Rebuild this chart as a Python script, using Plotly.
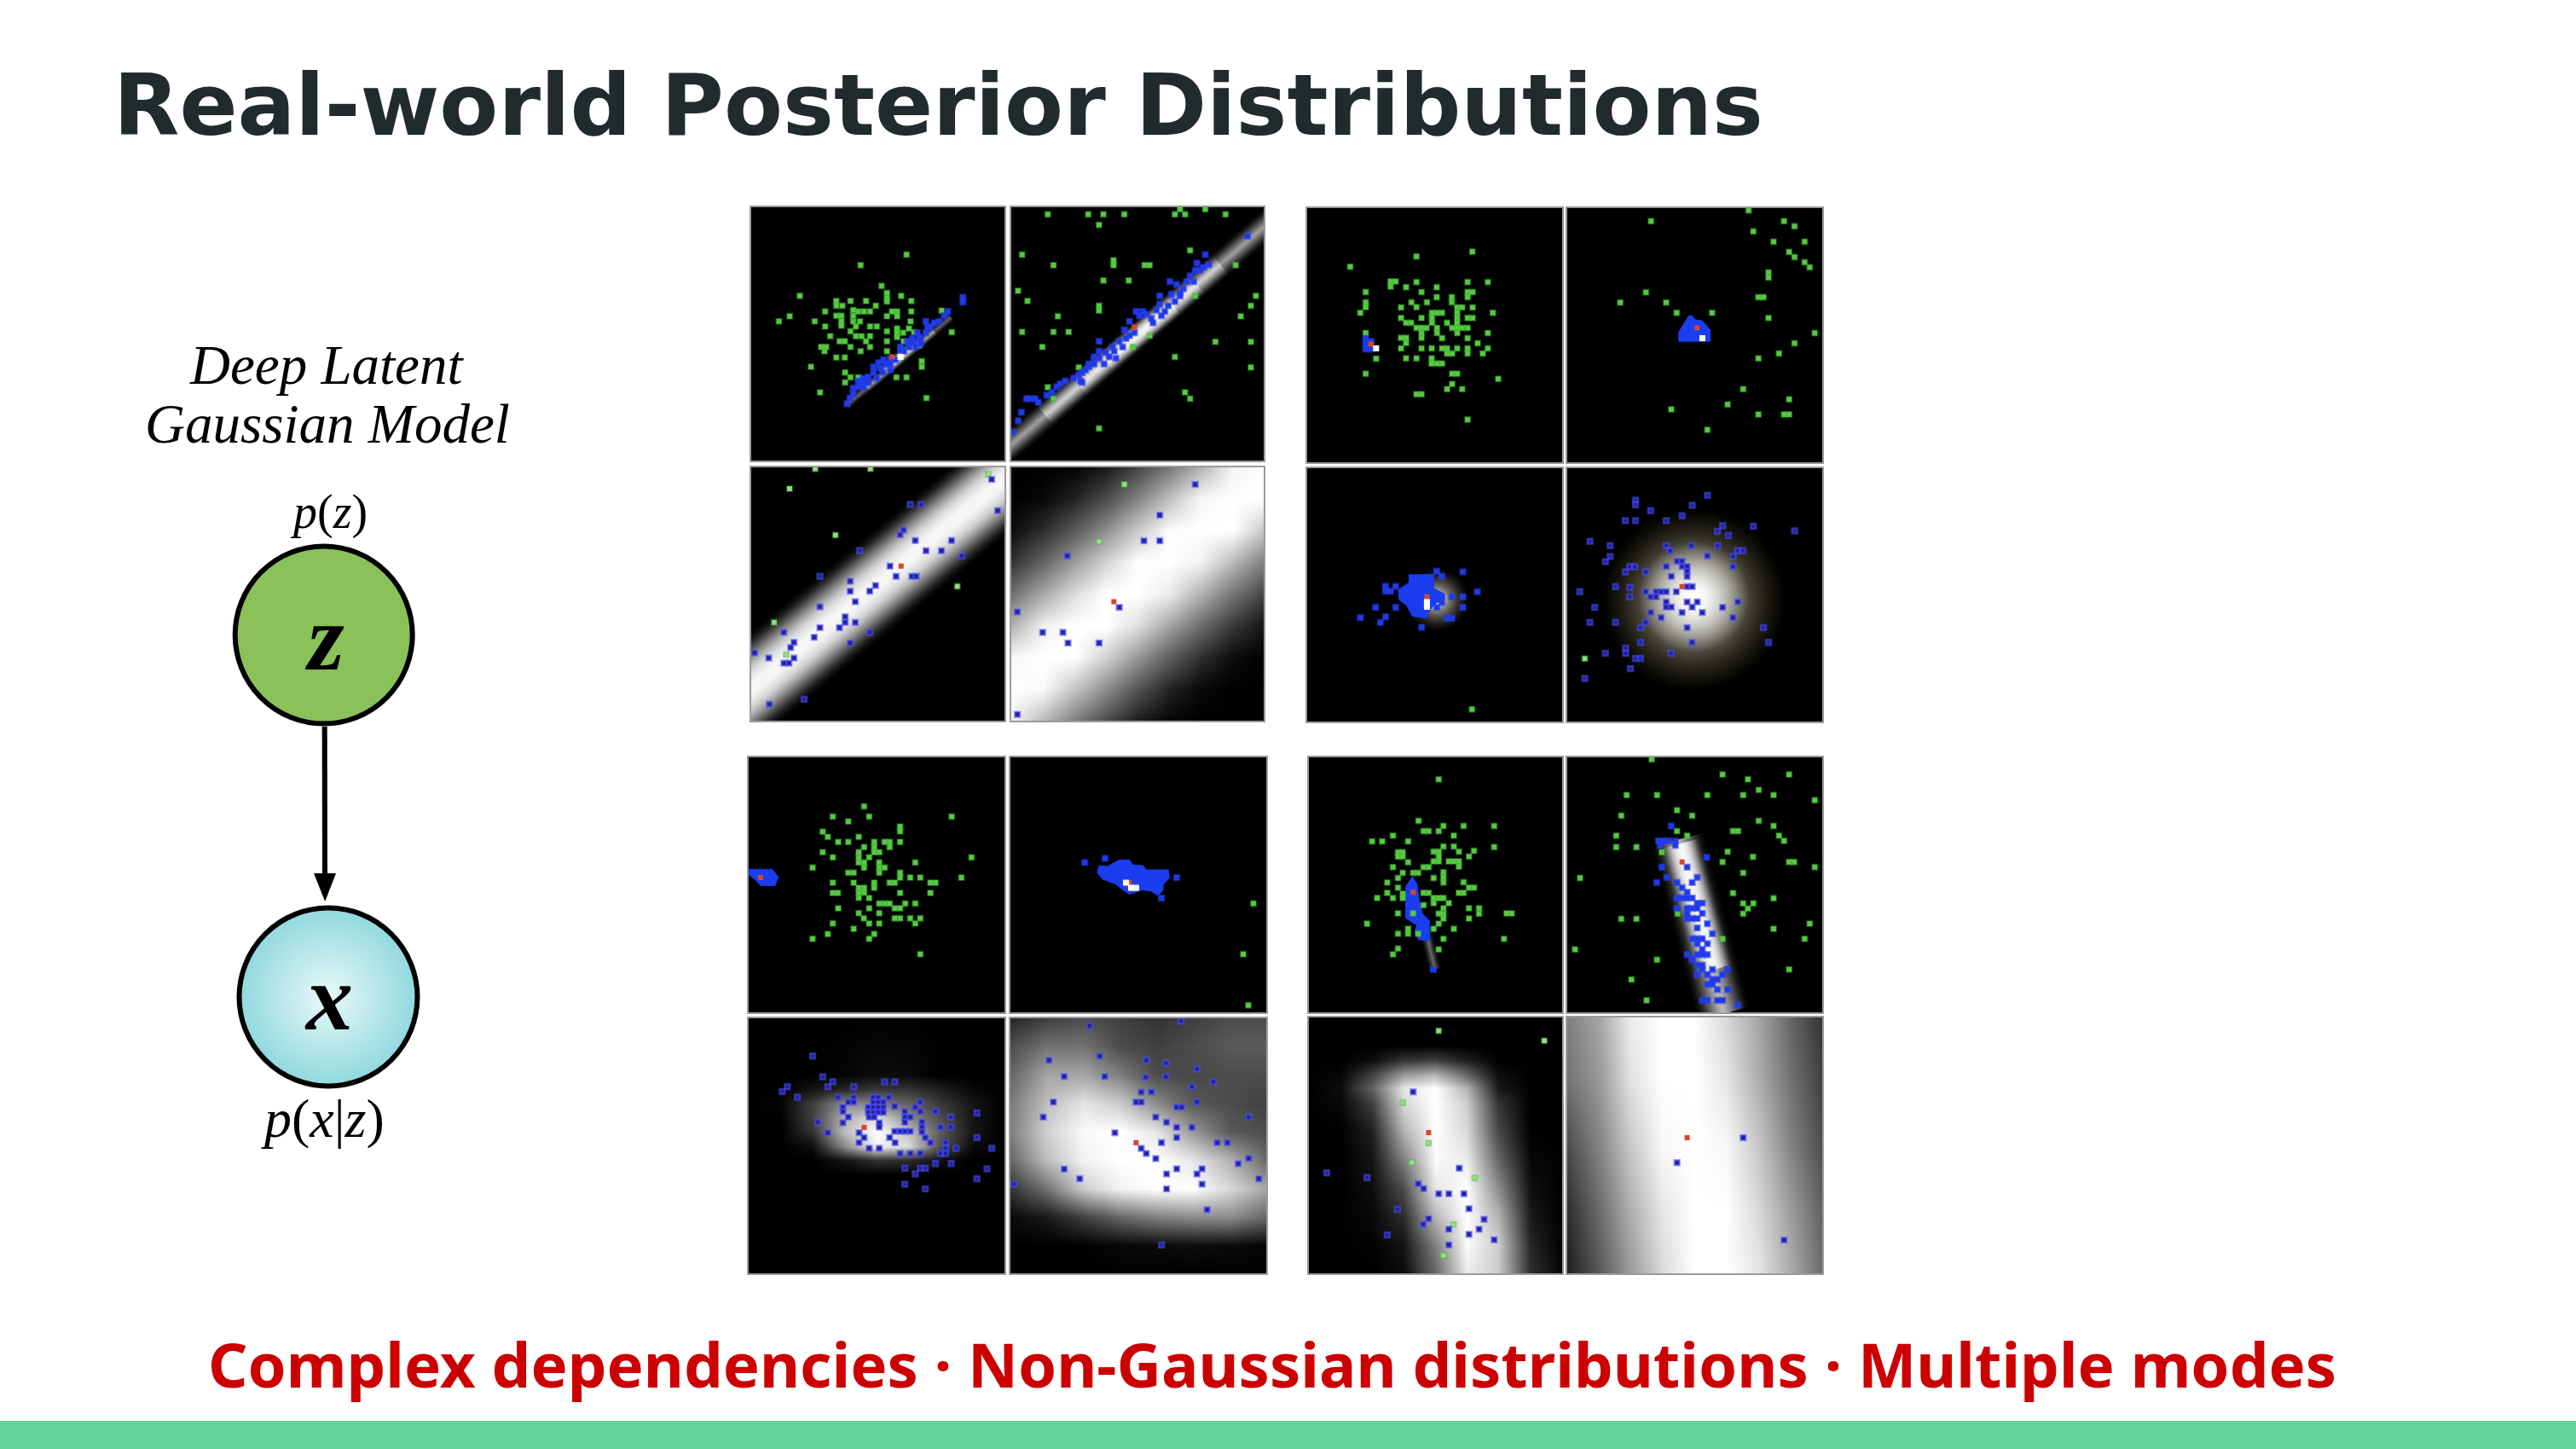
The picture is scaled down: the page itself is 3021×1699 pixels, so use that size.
import plotly.graph_objects as go
import numpy as np

W, H = 3021, 1699
TITLE = "Real-world Posterior Distributions"
FOOTER = "Complex dependencies · Non-Gaussian distributions · Multiple modes"

P01_G = [(488,205),(352,242),(172,350),(414,315),(430,340),(430,358),(430,370),(472,350),(502,368),(280,368),(280,385),(298,385),(322,368),(368,368),(397,385),(330,400),(345,405),(362,405),(380,405),(330,420),(247,405),(280,420),(295,420),(295,440),(295,455),(330,440),(445,405),(460,405),(460,422),(430,422),(502,405),(500,440),(142,422),(110,440),(216,440),(247,458),(350,440),(338,458),(380,458),(400,458),(322,475),(430,475),(460,465),(460,482),(460,495),(478,480),(495,465),(510,478),(262,492),(338,492),(355,492),(380,492),(290,510),(305,510),(322,530),(368,510),(380,530),(430,510),(480,510),(525,525),(430,545),(235,530),(250,530),(245,545),(352,545),(280,567),(305,567),(205,600),(622,478),(592,402),(533,580),(533,600),(306,620),(322,637),(345,637),(306,655),(458,637),(488,637),(232,690),(547,710)]
P01_B = [(312,730),(330,695),(345,670),(360,655),(375,635),(390,620),(410,605),(425,590),(440,590),(455,575),(480,545),(495,530),(510,515),(525,495),(545,480),(530,505),(545,440),(560,460),(585,440),(600,420),(610,405),(655,355),(655,372),(418,620),(400,640),(470,540),(505,500),(345,650),(360,640),(375,655),(390,600),(405,585),(420,575),(440,570),(470,530),(490,510),(520,480),(530,520),(515,530),(550,460),(570,445),(330,675),(320,710),(440,610),(360,670)]
P01_R = [(445,565)]
P01_W = [(470,565)]
P02_G = [(908,63),(1028,63),(1073,63),(1135,63),(1060,100),(1285,63),(1300,45),(1315,63),(1375,45),(1435,63),(832,205),(925,242),(1103,225),(1103,242),(1195,242),(1210,242),(1330,190),(1465,242),(1073,296),(1148,296),(820,332),(848,368),(1525,350),(1510,385),(1060,385),(1060,402),(938,422),(1480,422),(832,477),(925,477),(970,477),(892,530),(1405,512),(1510,512),(1285,565),(1000,602),(1510,602),(908,672),(925,712),(1315,690),(1330,712),(1060,817),(1345,350),(1210,490),(1160,530)]
P02_B = [(805,830),(820,790),(855,712),(880,725),(920,690),(945,660),(1005,650),(1010,620),(1030,590),(1045,565),(1060,510),(1075,590),(1105,545),(1130,530),(1140,500),(1165,480),(1170,405),(1190,405),(1215,430),(1240,350),(1255,405),(1285,370),(1290,310),(1310,325),(1330,280),(1350,235),(1385,240),(1375,205),(1360,260),(1500,140),(1240,380),(1220,445),(1100,530),(1080,550),(1060,570),(1030,600),(1270,300),(1340,300),(830,760),(845,712),(870,712),(905,700),(935,670),(960,650),(985,640),(1000,630),(1020,610),(1045,590),(1060,545),(1090,565),(1120,510),(1150,490),(1150,440),(1180,420),(1200,415),(1230,400),(1245,420),(1265,385),(1275,345),(1300,340),(1320,300),(1345,260),(1370,250),(1300,350),(1110,570),(1135,470),(1010,655)]
P02_R = [(1165,460)]
P03_G = [(218,30),(382,30),(142,100),(278,263),(96,570),(640,443),(132,683),(732,50)]
P03_B = [(742,67),(760,177),(500,155),(532,155),(480,245),(470,262),(515,282),(623,282),(350,318),(547,318),(593,318),(653,337),(440,372),(458,408),(505,408),(518,408),(232,408),(322,425),(397,440),(380,460),(322,460),(337,497),(232,515),(307,550),(307,570),(337,570),(232,588),(290,588),(380,605),(215,622),(125,605),(322,642),(155,640),(145,658),(38,677),(80,695),(155,695),(125,713),(140,713),(82,857),(185,840)]
P03_R = [(473,372)]
P04_G = [(1135,85),(1060,285)]
P04_B = [(818,893),(818,533),(893,605),(953,605),(968,642),(1060,642),(966,336),(1193,283),(1240,283),(1240,193),(1345,85),(1120,517)]
P04_R = [(1104,497)]
P05_G = [(523,195),(357,212),(160,248),(280,300),(295,300),(280,318),(357,302),(326,320),(417,320),(509,302),(569,302),(206,337),(372,337),(509,337),(524,337),(509,355),(417,355),(462,355),(462,373),(206,373),(206,390),(342,373),(357,390),(388,373),(311,391),(190,410),(478,391),(493,391),(524,391),(584,410),(403,410),(418,410),(433,410),(403,428),(403,445),(311,428),(372,428),(478,410),(478,428),(478,445),(509,428),(524,428),(326,445),(341,445),(448,445),(357,463),(372,463),(387,463),(372,481),(372,498),(418,463),(418,481),(463,463),(478,463),(493,463),(509,463),(478,481),(206,481),(569,481),(311,498),(326,498),(326,516),(311,535),(433,499),(509,499),(539,517),(372,535),(402,535),(433,535),(448,535),(448,553),(463,553),(478,535),(509,535),(509,553),(554,553),(569,535),(237,571),(326,570),(357,570),(402,570),(402,588),(418,588),(433,588),(206,624),(463,624),(478,624),(463,660),(448,678),(493,678),(357,696),(372,696),(600,642),(509,785)]
P05_B = [(206,500),(206,520),(206,537),(222,537),(222,510)]
P05_R = [(222,520)]
P05_W = [(237,535)]
P06_G = [(1342,50),(1053,88),(1447,88),(1478,106),(1356,124),(1416,160),(1508,160),(1462,196),(1478,214),(1508,232),(1523,250),(1401,268),(1401,286),(1038,338),(1371,355),(1386,355),(1098,374),(962,374),(1129,410),(1234,410),(1401,428),(1538,481),(1478,517),(1432,553),(1371,570),(1326,678),(1462,714),(1280,732),(1113,749),(1371,767),(1447,767),(1462,767),(1220,821)]
P06_POLY = [(1175,420),(1185,435),(1205,438),(1228,470),(1228,510),(1135,510),(1135,478),(1155,440),(1165,420)]
P06_R = [(1190,463)]
P06_W = [(1205,499)]
P07_G = [(522,875)]
P07_B = [(417,390),(495,392),(432,408),(265,443),(265,460),(280,460),(295,443),(538,462),(495,480),(462,480),(495,517),(235,517),(295,517),(265,550),(250,570),(190,553),(372,587),(447,555),(462,555),(418,517),(432,500)]
P07_POLY = [(335,402),(408,402),(408,450),(440,470),(440,490),(418,500),(400,520),(385,555),(345,548),(328,510),(305,490),(303,455),(335,430)]
P07_R = [(388,480)]
P07_W = [(388,498),(388,515)]
P08_G = [(857,697)]
P08_B = [(1220,123),(1007,140),(1007,157),(1175,158),(1052,177),(1145,195),(977,212),(1007,212),(1098,212),(1265,230),(1250,250),(1356,232),(1478,248),(1282,265),(872,285),(932,300),(1098,300),(1110,318),(1172,300),(1250,300),(1310,318),(1325,318),(932,338),(918,356),(1220,336),(1296,338),(1130,355),(1145,355),(1145,373),(1160,373),(1160,390),(1160,408),(1098,373),(1296,373),(990,374),(1005,374),(977,392),(1037,392),(1113,408),(948,444),(990,447),(1160,444),(1175,444),(842,462),(990,480),(1037,462),(1068,462),(1083,462),(1098,462),(1052,480),(1068,480),(1128,462),(1098,498),(1098,516),(1113,516),(1160,498),(1190,498),(1175,516),(1310,498),(886,517),(1265,517),(1052,535),(1145,535),(1205,535),(1083,553),(1296,553),(872,570),(948,570),(1037,570),(1022,588),(1160,588),(1386,588),(1022,640),(1175,640),(1401,640),(978,660),(978,678),(918,678),(1112,678),(1007,696),(1022,696),(992,732),(857,767)]
P08_R = [(1145,444)]
P09_G = [(363,197),(270,233),(378,233),(623,233),(316,250),(470,268),(470,285),(240,286),(255,304),(347,304),(286,322),(316,322),(393,322),(393,340),(393,358),(408,358),(424,322),(439,322),(439,340),(470,322),(363,340),(347,358),(347,376),(347,394),(363,394),(363,412),(378,376),(240,358),(270,376),(682,376),(515,394),(210,412),(408,394),(408,412),(408,430),(424,412),(316,430),(332,430),(470,430),(470,447),(500,447),(530,447),(652,447),(270,465),(332,465),(393,465),(393,483),(439,465),(454,465),(560,465),(575,465),(347,483),(363,483),(347,500),(363,500),(347,518),(270,501),(285,501),(470,501),(560,501),(378,519),(408,538),(424,538),(439,538),(485,538),(515,538),(454,555),(470,555),(286,555),(378,555),(347,572),(408,572),(362,590),(454,590),(470,590),(500,590),(530,590),(270,608),(378,608),(408,608),(515,608),(332,627),(393,645),(255,645),(378,662),(210,662),(530,716)]
P09_POLY = [(22,418),(90,418),(108,445),(98,475),(55,475),(40,455),(22,438)]
P09_R = [(55,447)]
P10_G = [(1517,538),(1487,716),(1502,895)]
P10_B = [(1018,394),(1078,380),(1245,519),(1290,447)]
P10_POLY = [(1120,385),(1150,385),(1160,403),(1190,405),(1200,420),(1265,420),(1268,450),(1250,470),(1250,490),(1235,510),(1215,495),(1190,490),(1150,505),(1130,490),(1110,470),(1070,452),(1055,430),(1060,405),(1085,408)]
P10_R = [(1150,465)]
P10_W = [(1140,465),(1155,483),(1170,483)]
P11_B = [(210,145),(240,218),(270,235),(255,253),(332,253),(135,253),(120,270),(165,290),(424,236),(454,236),(285,290),(332,290),(390,290),(405,290),(436,290),(316,307),(332,307),(390,307),(405,307),(420,307),(300,325),(300,340),(375,325),(390,325),(405,325),(420,325),(375,343),(390,343),(405,343),(420,343),(454,322),(530,307),(515,325),(484,340),(530,340),(575,340),(620,360),(698,345),(316,360),(300,380),(378,360),(393,360),(408,380),(408,395),(484,360),(500,360),(484,378),(535,378),(535,395),(225,378),(590,395),(620,395),(454,410),(470,410),(485,410),(500,410),(535,412),(348,415),(348,450),(363,432),(439,432),(455,450),(545,432),(698,432),(378,470),(408,470),(605,450),(605,470),(590,488),(605,488),(636,470),(742,470),(470,488),(500,488),(530,488),(560,450),(575,523),(622,523),(484,540),(530,540),(545,540),(515,560),(728,542),(698,577),(484,596),(545,613),(255,415)]
P11_R = [(363,396)]
P12_B = [(1032,38),(1303,22),(912,160),(1062,145),(1200,160),(1258,170),(1350,190),(957,217),(1077,217),(1198,220),(1258,218),(1398,235),(1335,253),(1185,272),(1215,272),(925,307),(1170,307),(1185,307),(1350,307),(1290,325),(1305,325),(895,360),(1228,360),(1260,378),(1503,360),(1290,396),(1335,396),(1107,415),(1290,432),(1245,450),(1410,450),(1440,450),(1185,470),(1200,488),(1228,506),(1503,505),(1472,524),(957,543),(1290,542),(1365,542),(1350,560),(1260,560),(1003,577),(1533,577),(1365,596),(808,596),(1260,613),(1380,686),(1245,810)]
P12_R = [(1170,450)]
P13_G = [(423,105),(363,250),(497,268),(437,268),(378,286),(393,286),(423,286),(588,268),(225,322),(255,322),(287,302),(332,322),(468,302),(302,360),(316,360),(302,375),(316,375),(437,340),(468,340),(588,342),(528,355),(513,375),(483,358),(408,358),(423,358),(423,375),(423,392),(408,392),(453,392),(468,392),(483,392),(483,410),(378,412),(393,412),(287,412),(332,395),(316,432),(347,432),(362,432),(437,430),(437,448),(437,466),(408,450),(302,450),(270,466),(497,465),(513,484),(528,484),(483,502),(497,502),(302,484),(270,502),(287,520),(240,520),(316,505),(316,520),(378,502),(393,502),(408,520),(423,520),(437,520),(408,538),(453,538),(378,545),(513,556),(543,556),(543,575),(513,592),(302,574),(347,574),(437,556),(437,575),(423,575),(437,592),(423,610),(408,628),(468,628),(625,574),(640,574),(210,610),(332,628),(332,645),(302,645),(362,645),(437,663),(617,663),(423,700),(302,697),(287,717)]
P13_POLY = [(345,445),(358,470),(365,530),(375,575),(395,600),(395,670),(362,665),(352,640),(358,615),(325,590),(325,480)]
P13_B = [(407,770)]
P13_R = [(347,500)]
P14_G = [(1055,35),(1265,88),(1340,105),(1462,88),(1372,142),(981,160),(1071,160),(1220,160),(1326,160),(1416,160),(1538,178),(1130,213),(1175,232),(965,232),(1372,250),(1416,268),(1130,286),(1296,286),(1311,286),(950,302),(1160,302),(1432,302),(1447,320),(950,342),(1010,342),(1085,360),(1280,358),(1355,376),(1265,394),(1462,394),(1477,394),(1538,412),(1326,432),(843,450),(1296,503),(1416,521),(1326,539),(1356,539),(1340,557),(1326,575),(1132,575),(965,593),(1010,593),(1523,610),(1416,628),(1508,663),(1265,663),(828,700),(1071,736),(1462,770),(995,805),(1040,878)]
P14_B = [(1113,268),(1075,320),(1090,320),(1105,320),(1125,320),(1080,336),(1125,336),(1218,378),(1160,412),(1085,412),(1100,448),(1190,448),(1175,466),(1130,466),(1070,466),(1145,484),(1160,500),(1175,520),(1190,538),(1205,538),(1130,556),(1160,556),(1175,556),(1190,556),(1160,574),(1205,574),(1175,592),(1190,592),(1220,610),(1235,645),(1175,663),(1190,663),(1205,663),(1220,680),(1190,680),(1205,700),(1160,718),(1220,718),(1175,735),(1190,755),(1205,755),(1235,770),(1280,770),(1190,788),(1220,788),(1235,805),(1250,805),(1220,822),(1235,822),(1250,840),(1280,840),(1205,878),(1220,878),(1250,878),(1265,878),(1310,895),(1265,788),(1205,770),(1190,718),(1205,718),(1190,625),(1160,592),(1145,520),(1160,520),(1130,520)]
P14_R = [(1145,394)]
P15_G = [(423,57),(737,92),(316,310),(393,452),(343,520),(467,738),(437,847),(530,575)]
P15_B = [(90,557),(210,573),(347,272),(484,540),(362,595),(378,612),(423,630),(453,630),(498,630),(513,683),(300,685),(393,718),(377,738),(558,720),(453,755),(543,755),(513,773),(270,775),(588,792),(453,810)]
P15_R = [(393,415)]
P16_B = [(1130,521),(1326,433),(1447,793)]
P16_R = [(1160,433)]

P04_HX = [800,893,987,1080,1174,1267,1361,1454,1548]
P04_HY = [25,136,247,359,470,581,692,804,915]
P04_HZ = [[0,0,1,10,27,47,70,95,100],[0,3,14,30,52,75,97,100,100],[5,18,35,56,79,99,100,100,78],[20,39,61,83,100,100,95,73,50],[44,66,87,100,100,92,69,46,26],[70,94,100,100,87,64,42,22,8],[97,100,100,82,59,37,18,5,0],[100,98,77,55,33,14,3,0,0],[95,73,50,30,12,2,0,0,0]]
P11_HX = [20,115,210,305,400,495,590,685,780]
P11_HY = [12,212,262,312,362,412,462,512,562,910]
P11_HZ = [[0,0,0,0,0,0,0,0,0],[0,0,0,2,5,4,0,0,0],[0,0,8,15,22,20,12,3,0],[0,2,25,55,50,38,22,8,0],[0,0,25,70,88,55,30,8,0],[0,0,20,75,100,75,35,8,0],[0,0,5,55,95,85,30,4,0],[0,0,0,8,20,18,6,0,0],[0,0,0,0,0,0,0,0,0],[0,0,0,0,0,0,0,0,0]]
P12_HX = [798,906,1014,1122,1230,1338,1446,1555]
P12_HY = [12,112,212,312,412,512,612,712,812,910]
P12_HZ = [[15,25,30,25,20,25,30,30],[30,45,45,30,25,30,35,35],[40,65,65,50,30,28,30,30],[48,75,90,80,55,35,30,25],[50,82,98,100,90,60,35,30],[40,75,95,100,100,90,70,40],[20,45,80,95,100,100,85,65],[4,10,25,40,50,55,55,40],[0,0,0,3,4,5,4,2],[0,0,0,0,0,0,0,0]]
P15_HX = [37,131,225,319,413,507,601,695,790]
P15_HY = [10,110,160,210,260,310,410,510,610,710,810,910]
P15_HZ = [[0,0,0,0,0,0,0,0,0],[0,0,0,0,0,0,0,0,0],[0,0,5,20,25,12,0,0,0],[0,2,25,60,70,40,5,0,0],[0,5,38,90,100,70,10,0,0],[0,3,25,85,100,80,20,0,0],[0,0,12,70,100,85,28,0,0],[0,0,8,50,98,92,40,3,0],[0,0,5,30,90,100,55,6,0],[0,0,3,18,72,100,70,10,0],[0,0,1,8,50,98,80,15,0],[0,0,0,4,40,92,80,18,2]]
P16_HX = [805,900,990,1085,1180,1275,1370,1465,1560]
P16_HY = [10,230,460,690,910]
P16_HZ = [[50,65,92,100,100,85,65,40,20],[45,60,88,100,100,90,68,45,25],[30,52,78,97,100,97,78,52,30],[18,42,68,90,100,100,85,62,38],[12,35,60,85,100,100,90,68,42]]

P01_RIDGE = [((310,735),(620,425),14,0.05),((370,675),(570,475),14,0.05),((420,610),(520,510),14,0.07),((445,585),(495,535),14,0.10)]
P02_RIDGE = [((780,895),(1570,85),36,0.09),((900,770),(1420,240),32,0.07),((1000,665),(1350,310),30,0.08),((1080,580),(1280,385),28,0.11)]
P03_RIDGE = [((-120,947),(920,-70),104,0.30)]
P13_RIDGE = [((383,630),(412,770),18,0.05)]
P14_RIDGE = [((1132,316),(1268,925),66,0.12),((1140,330),(1240,770),46,0.22)]

P07_BLOB = [((418,490),74,"rgba(110,100,70,0)")]
P08_BLOB = [((1180,490),215,"rgba(120,110,60,0)"),((1180,480),130,"rgba(255,255,255,0)")]

FRAMES = [
 dict(n="P01",px=(881,1178),py=(243,540),rx=(28,778),ry=(930,38),dense=True),
 dict(n="P02",px=(1186,1482),py=(243,540),rx=(800,1548),ry=(930,38),dense=True),
 dict(n="P03",px=(881,1178),py=(548,845),rx=(28,780),ry=(915,25),dense=False),
 dict(n="P04",px=(1186,1482),py=(548,845),rx=(800,1548),ry=(915,25),dense=False),
 dict(n="P05",px=(1533,1832),py=(244,542),rx=(32,790),ry=(935,42),dense=True),
 dict(n="P06",px=(1838,2137),py=(244,542),rx=(805,1560),ry=(935,42),dense=True),
 dict(n="P07",px=(1533,1832),py=(549,846),rx=(32,790),ry=(918,28),dense=True),
 dict(n="P08",px=(1838,2137),py=(549,846),rx=(805,1560),ry=(918,28),dense=False),
 dict(n="P09",px=(878,1178),py=(888,1187),rx=(20,780),ry=(920,25),dense=True),
 dict(n="P10",px=(1185,1485),py=(888,1187),rx=(798,1555),ry=(920,25),dense=True),
 dict(n="P11",px=(878,1178),py=(1194,1493),rx=(20,780),ry=(910,12),dense=False),
 dict(n="P12",px=(1185,1485),py=(1194,1493),rx=(798,1555),ry=(910,12),dense=False),
 dict(n="P13",px=(1535,1832),py=(888,1187),rx=(37,790),ry=(920,28),dense=True),
 dict(n="P14",px=(1838,2137),py=(888,1187),rx=(805,1560),ry=(920,28),dense=True),
 dict(n="P15",px=(1535,1832),py=(1193,1493),rx=(37,790),ry=(910,10),dense=False),
 dict(n="P16",px=(1838,2137),py=(1193,1493),rx=(805,1560),ry=(910,10),dense=False),
]

Z_NODE = (379.7, 744.5)
X_NODE = (385, 1169)
ARROW_LINE_X, ARROW_LINE_Y = [380.7, 381], [852, 1030]
ARROW_HEAD_X, ARROW_HEAD_Y = [368, 394, 381.2, 368], [1024, 1024, 1057, 1024]

GRAY = [[0, "#000"], [1, "#fff"]]
fig = go.Figure()
layout = dict(
    width=W, height=H, margin=dict(l=0, r=0, t=0, b=0), autosize=False,
    paper_bgcolor="white", plot_bgcolor="rgba(0,0,0,0)", showlegend=False,
    xaxis=dict(range=[0, W], domain=[0, 1], visible=False, fixedrange=True),
    yaxis=dict(range=[H, 0], domain=[0, 1], visible=False, fixedrange=True),
)
shapes = [dict(type="rect", xref="x", yref="y", x0=0, x1=W, y0=1666, y1=H,
               fillcolor="#63D297", line_width=0, layer="below")]

def xy(p):
    return [a for a, _ in p], [b for _, b in p]

N_LAYERS = 20
for i, f in enumerate(FRAMES):
    k = i + 2
    xa, ya = f"x{k}", f"y{k}"
    g = globals()
    n = f["n"]
    axis_style = dict(visible=True, showgrid=False, zeroline=False, showticklabels=False, ticks="",
                      showline=True, mirror=True, linecolor="#9a9a9a", linewidth=1.5, fixedrange=True)
    layout[f"xaxis{k}"] = dict(range=list(f["rx"]), domain=[f["px"][0]/W, f["px"][1]/W], anchor=ya, **axis_style)
    layout[f"yaxis{k}"] = dict(range=list(f["ry"]), domain=[1-f["py"][1]/H, 1-f["py"][0]/H], anchor=xa, **axis_style)
    shapes.append(dict(type="rect", xref=xa, yref=ya, x0=f["rx"][0], x1=f["rx"][1], y0=f["ry"][1], y1=f["ry"][0],
                       fillcolor="#000", line_width=0, layer="below"))
    if n + "_HZ" in g:
        fig.add_trace(go.Heatmap(x=g[n+"_HX"], y=g[n+"_HY"], z=g[n+"_HZ"], zmin=0, zmax=100, colorscale=GRAY,
                                 zsmooth="best", showscale=False, hoverinfo="skip", xaxis=xa, yaxis=ya))
    for a, b, w, op in g.get(n + "_RIDGE", []):
        for j, lw in enumerate(np.linspace(w, w/12, N_LAYERS)):
            alpha = op * (j + 1) / N_LAYERS
            fig.add_trace(go.Scatter(x=[a[0], b[0]], y=[a[1], b[1]], mode="lines", xaxis=xa, yaxis=ya,
                                     line=dict(color=f"rgba(255,255,255,{alpha:.3f})", width=float(lw)), hoverinfo="skip"))
    for c, d, edge in g.get(n + "_BLOB", []):
        fig.add_trace(go.Scatter(x=[c[0]], y=[c[1]], mode="markers", xaxis=xa, yaxis=ya, hoverinfo="skip",
                                 marker=dict(size=d, color=edge, line_width=0,
                                             gradient=dict(type="radial", color="#ffffff"))))
    if n + "_POLY" in g:
        px_, py_ = xy(g[n + "_POLY"])
        fig.add_trace(go.Scatter(x=px_+px_[:1], y=py_+py_[:1], mode="lines", fill="toself", fillcolor="#1a3df0",
                                 line=dict(color="#1a3df0", width=1), xaxis=xa, yaxis=ya, hoverinfo="skip"))
    if n + "_G" in g:
        gx, gy = xy(g[n + "_G"])
        col = "#5cc845" if f["dense"] else "#9fdc8e"
        fig.add_trace(go.Scatter(x=gx, y=gy, mode="markers", xaxis=xa, yaxis=ya, hoverinfo="skip",
                                 marker=dict(symbol="square", size=6, color=col, line=dict(color="rgba(60,190,50,0.4)", width=2))))
    if n + "_B" in g:
        bx, by = xy(g[n + "_B"])
        col = "#1c3ae8" if f["dense"] else "#20209c"
        halo = "rgba(40,60,240,0.5)" if f["dense"] else "rgba(80,80,255,0.5)"
        fig.add_trace(go.Scatter(x=bx, y=by, mode="markers", xaxis=xa, yaxis=ya, hoverinfo="skip",
                                 marker=dict(symbol="square", size=6, color=col, line=dict(color=halo, width=2.5))))
    if n + "_R" in g:
        rx_, ry_ = xy(g[n + "_R"])
        fig.add_trace(go.Scatter(x=rx_, y=ry_, mode="markers", xaxis=xa, yaxis=ya, hoverinfo="skip",
                                 marker=dict(symbol="square", size=6, color="#d8452c", line_width=0)))
    if n + "_W" in g:
        wx, wy = xy(g[n + "_W"])
        fig.add_trace(go.Scatter(x=wx, y=wy, mode="markers", xaxis=xa, yaxis=ya, hoverinfo="skip",
                                 marker=dict(symbol="square", size=7, color="#ffffff", line_width=0)))

fig.add_trace(go.Scatter(x=ARROW_LINE_X, y=ARROW_LINE_Y, mode="lines", line=dict(color="#000", width=6), hoverinfo="skip"))
fig.add_trace(go.Scatter(x=ARROW_HEAD_X, y=ARROW_HEAD_Y, mode="lines", fill="toself", fillcolor="#000",
                         line=dict(color="#000", width=0), hoverinfo="skip"))
fig.add_trace(go.Scatter(x=[Z_NODE[0]], y=[Z_NODE[1]], mode="markers", hoverinfo="skip",
                         marker=dict(size=208, color="#8BC159", line=dict(color="#000", width=6))))
fig.add_trace(go.Scatter(x=[X_NODE[0]], y=[X_NODE[1]], mode="markers", hoverinfo="skip",
                         marker=dict(size=209, color="#90D9DE", line=dict(color="#000", width=6),
                                     gradient=dict(type="radial", color="#EAF8F9"))))

def label(x, y, text, font, size, color="#000", xanchor="center"):
    return dict(x=x, y=y, xref="x", yref="y", text=text, showarrow=False, xanchor=xanchor, yanchor="middle",
                font=dict(family=font, size=size, color=color), align="center")

SERIF = "Liberation Serif"
layout["annotations"] = [
    label(131, 123, f"<b>{TITLE}</b>", "DejaVu Sans", 100.5, "#212A2D", "left"),
    label(1492, 1598, f"<b>{FOOTER}</b>", "Noto Sans", 72.5, "#CC0000"),
    label(383, 428, "<i>Deep Latent</i>", SERIF, 65),
    label(384, 497, "<i>Gaussian Model</i>", SERIF, 65),
    label(385, 600, "<i>p</i>(<i>z</i>)", SERIF, 56),
    label(378, 1311, "<i>p</i>(<i>x</i>|<i>z</i>)", SERIF, 64),
    label(380, 748, "<b><i>z</i></b>", SERIF, 110),
    label(385, 1170, "<b><i>x</i></b>", SERIF, 110),
]
layout["shapes"] = shapes
fig.update_layout(**layout)
fig.write_html("out.html", config={"displayModeBar": False},
               post_script="document.body.style.margin='0';document.body.style.overflow='hidden';")
